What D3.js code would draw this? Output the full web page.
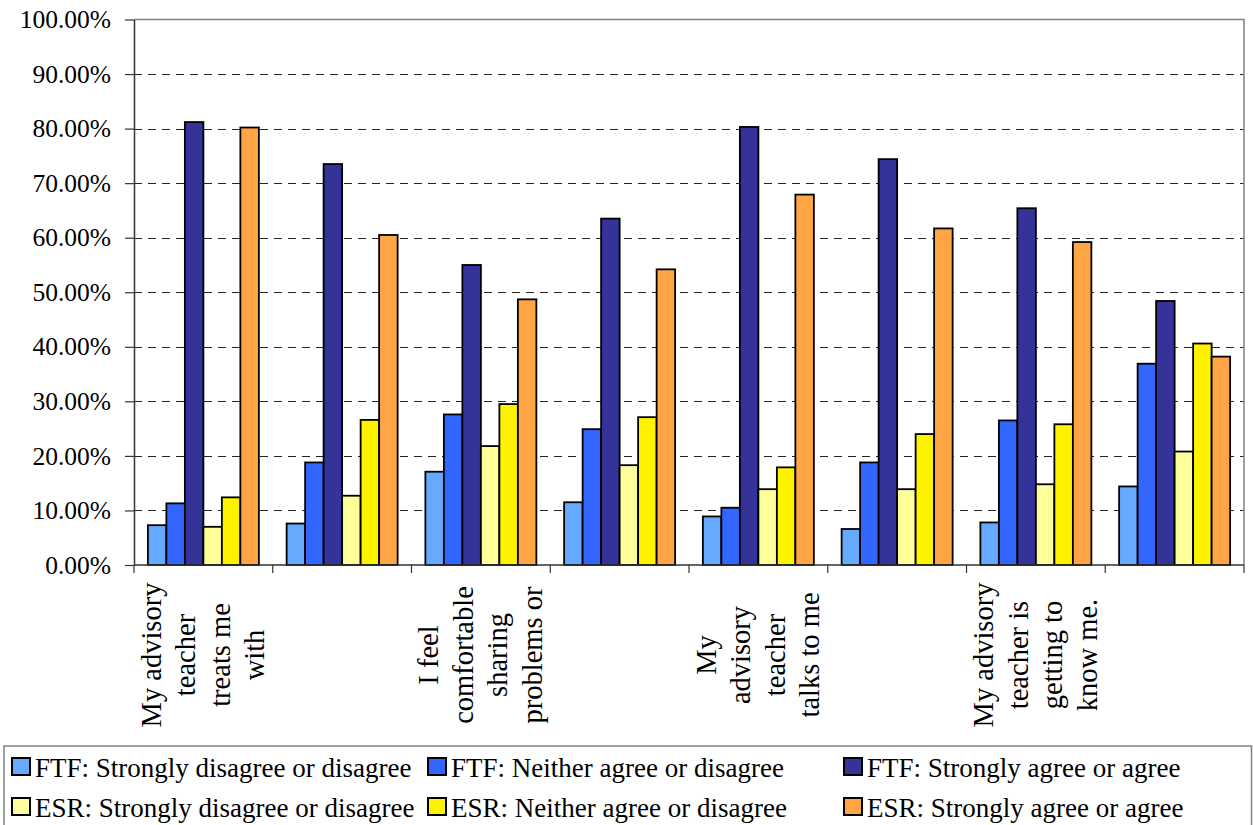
<html lang="en">
  <head>
    <title>Advisory survey chart</title>
    <script src="https://d3js.org/d3.v7.min.js"></script>
    <style>
      body { margin: 0; background: #fff; }
      svg text { font-family: "Liberation Serif", "Times New Roman", Tinos, "DejaVu Serif", serif !important; fill: #000; }
    </style>
  </head>
  <body>
    <div id="container"></div>
    <script>
      // category labels (only every other one is shown in the original)
      const categoryLabels = [
        ['My advisory', 'teacher', 'treats me', 'with'],
        [],
        ['I feel', 'comfortable', 'sharing', 'problems or'],
        [],
        ['My', 'advisory', 'teacher', 'talks to me'],
        [],
        ['My advisory', 'teacher is', 'getting to', 'know me.'],
        []
      ]
      const seriesNames = [
        'FTF: Strongly disagree or disagree',
        'FTF: Neither agree or disagree',
        'FTF: Strongly agree or agree',
        'ESR: Strongly disagree or disagree',
        'ESR: Neither agree or disagree',
        'ESR: Strongly agree or agree'
      ]
      const seriesColors = ['#66AAFF', '#3366FF', '#333399', '#FFFF99', '#FFF200', '#FFA544']
      // percentages
      const ftfDisagree = [7.3, 7.6, 17.1, 11.5, 8.9, 6.6, 7.8, 14.4]
      const ftfNeither  = [11.3, 18.8, 27.6, 24.9, 10.5, 18.8, 26.5, 36.9]
      const ftfAgree    = [81.2, 73.5, 55.0, 63.5, 80.3, 74.4, 65.4, 48.4]
      const esrDisagree = [7.0, 12.7, 21.8, 18.3, 13.9, 13.9, 14.8, 20.8]
      const esrNeither  = [12.4, 26.6, 29.5, 27.1, 17.9, 24.0, 25.8, 40.6]
      const esrAgree    = [80.2, 60.5, 48.7, 54.2, 67.9, 61.7, 59.2, 38.2]
      const yTicks = [0, 0.1, 0.2, 0.3, 0.4, 0.5, 0.6, 0.7, 0.8, 0.9, 1.0]

      const seriesValues = [ftfDisagree, ftfNeither, ftfAgree, esrDisagree, esrNeither, esrAgree]

      const W = 1253, H = 825
      const svg = d3.select('#container').append('svg')
        .attr('width', W)
        .attr('height', H)

      const catIdx = d3.range(categoryLabels.length)
      const x = d3.scaleBand().domain(catIdx).range([134, 1244]).padding(0)
      const xs = d3.scaleBand().domain(d3.range(seriesNames.length))
        .range([0, x.bandwidth()]).paddingInner(0).paddingOuter(0.75)
      const y = d3.scaleLinear().domain([0, 1]).range([565, 19.5])

      // dashed gridlines
      svg.append('g')
        .selectAll('line')
        .data(yTicks.filter(t => t > 0 && t < 1)).enter()
        .append('line')
        .attr('x1', 134)
        .attr('x2', 1244)
        .attr('y1', d => Math.round(y(d)) + 0.5)
        .attr('y2', d => Math.round(y(d)) + 0.5)
        .attr('stroke', '#222')
        .attr('stroke-width', 1)
        .attr('stroke-dasharray', '8,6')

      // plot area border (top and right)
      svg.append('path')
        .attr('d', `M134,${y(1)}H1244V${y(0)}`)
        .attr('fill', 'none')
        .attr('stroke', '#808080')
        .attr('stroke-width', 1.5)

      // bars
      const groups = svg.append('g')
        .selectAll('g')
        .data(catIdx).enter()
        .append('g')
        .attr('transform', d => `translate(${x(d)},0)`)
      groups.selectAll('rect')
        .data(c => seriesValues.map((vals, s) => ({ s, v: vals[c] / 100 }))).enter()
        .append('rect')
        .attr('x', d => xs(d.s))
        .attr('width', xs.bandwidth())
        .attr('y', d => y(d.v))
        .attr('height', d => y(0) - y(d.v))
        .attr('fill', d => seriesColors[d.s])
        .attr('stroke', '#000')
        .attr('stroke-width', 1.8)

      // y axis
      const yAxis = svg.append('g')
        .attr('transform', 'translate(134,0)')
        .call(d3.axisLeft(y).tickValues(yTicks).tickFormat(d3.format('.2%'))
          .tickSize(9).tickSizeOuter(0).tickPadding(14))
      yAxis.attr('font-family', null).attr('font-size', null)
      yAxis.select('.domain').attr('stroke', '#333').attr('stroke-width', 1.5)
      yAxis.selectAll('.tick line').attr('stroke', '#333').attr('stroke-width', 1.2)
      yAxis.selectAll('.tick text')
        .attr('font-size', 25.5)
        .attr('fill', '#000')

      // x axis line and boundary ticks
      svg.append('line')
        .attr('x1', 134).attr('x2', 1244)
        .attr('y1', y(0)).attr('y2', y(0))
        .attr('stroke', '#333').attr('stroke-width', 1.5)
      svg.append('g')
        .selectAll('line')
        .data(catIdx.concat([catIdx.length])).enter()
        .append('line')
        .attr('x1', d => d < catIdx.length ? x(d) : x.range()[1])
        .attr('x2', d => d < catIdx.length ? x(d) : x.range()[1])
        .attr('y1', y(0))
        .attr('y2', y(0) + 8)
        .attr('stroke', '#333').attr('stroke-width', 1.2)

      // rotated multi-line category labels
      const lineGap = 34.5, labelFs = 28.5
      const labels = svg.append('g')
        .selectAll('g')
        .data(catIdx).enter()
        .append('g')
        .attr('transform', d => `translate(${x(d) + x.bandwidth() / 2},655) rotate(-90)`)
      labels.selectAll('text')
        .data(c => categoryLabels[c].map((t, i, arr) => ({ t, off: (i - (arr.length - 1) / 2) * lineGap })))
        .enter()
        .append('text')
        .attr('x', 0)
        .attr('y', d => d.off + labelFs * 0.32)
        .attr('text-anchor', 'middle')
        .attr('font-size', labelFs)
        .text(d => d.t)

      // legend
      svg.append('rect')
        .attr('x', 4).attr('y', 746)
        .attr('width', 1247.5).attr('height', 100)
        .attr('fill', 'none')
        .attr('stroke', '#808080').attr('stroke-width', 1.5)
      const colX = [12, 428, 844]
      const rowY = [758, 798]
      const items = svg.append('g')
        .selectAll('g')
        .data(seriesNames.map((n, i) => ({ n, i }))).enter()
        .append('g')
        .attr('transform', d => `translate(${colX[d.i % 3]},${rowY[Math.floor(d.i / 3)]})`)
      items.append('rect')
        .attr('x', 0).attr('y', 0)
        .attr('width', 18).attr('height', 17)
        .attr('fill', d => seriesColors[d.i])
        .attr('stroke', '#000').attr('stroke-width', 2)
      items.append('text')
        .attr('x', 23)
        .attr('y', 18.5)
        .attr('font-size', 27)
        .text(d => d.n)
    </script>
  </body>
</html>
